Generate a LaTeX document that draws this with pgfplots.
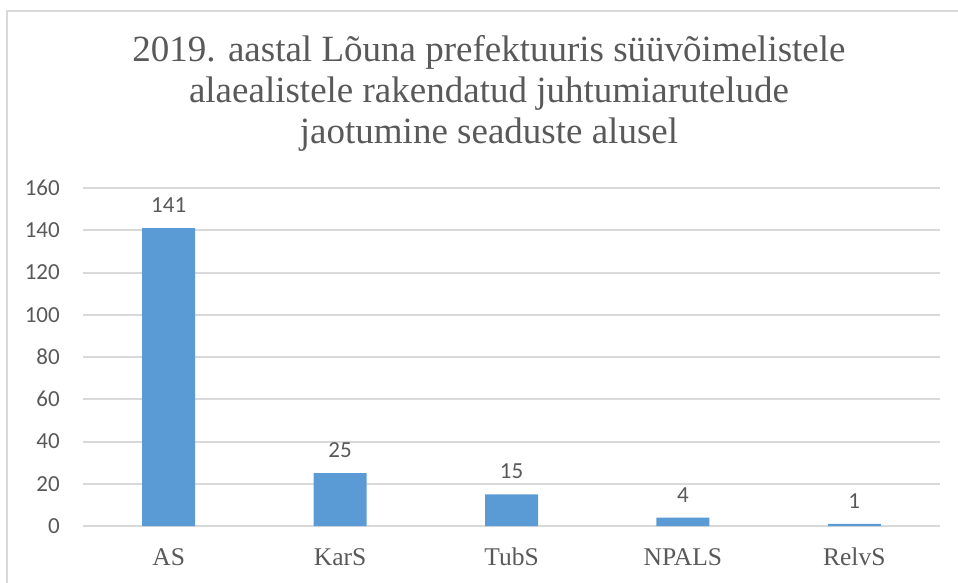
\documentclass[border=0pt]{standalone}
\usepackage{fontspec}
\setmainfont{Liberation Serif}
\newfontfamily\tnr{Liberation Serif}
\newfontfamily\carlito{Carlito}
\usepackage{pgfplots}
\pgfplotsset{compat=1.18}
\definecolor{txt}{HTML}{595959}
\definecolor{grd}{HTML}{D9D9D9}
\definecolor{bar}{HTML}{5B9BD5}
\begin{document}
\begin{tikzpicture}[x=1pt,y=1pt]
\path[use as bounding box] (0,0) rectangle (958,582);
\draw[grd, line width=2pt] (7,-10) -- (7,571) -- (970,571);
\begin{scope}[every node/.style={txt, anchor=base, font=\tnr\fontsize{37}{41}\selectfont}]
\node at (489,520) {2019. aastal Lõuna prefektuuris süüvõimelistele};
\node at (489,479) {alaealistele rakendatud juhtumiarutelude};
\node at (489,438) {jaotumine seaduste alusel};
\end{scope}
\begin{axis}[
  at={(83pt,56pt)}, anchor=south west,
  scale only axis, width=857pt, height=338pt,
  ybar, bar width=53pt,
  xmin=-0.5, xmax=4.5, ymin=0, ymax=160,
  xtick=data, xticklabels={AS,KarS,TubS,NPALS,RelvS},
  ytick={0,20,...,160},
  axis line style={draw=none},
  major tick length=0pt,
  ymajorgrids, grid style={grd, line width=2pt},
  /pgf/number format/assume math mode=true,
  xticklabel style={txt, font=\tnr\fontsize{25.5}{28}\selectfont, anchor=north, inner sep=0pt, yshift=-22pt},
  yticklabel style={txt, font=\carlito\fontsize{23}{25}\selectfont, anchor=east, inner sep=0pt, xshift=-23pt},
  nodes near coords,
  nodes near coords style={txt, font=\carlito\fontsize{23}{25}\selectfont, anchor=south, inner sep=0pt, yshift=15pt},
  clip=false,
]
\addplot[fill=bar, draw=none] coordinates {(0,141) (1,25) (2,15) (3,4) (4,1)};
\end{axis}
\end{tikzpicture}
\end{document}
